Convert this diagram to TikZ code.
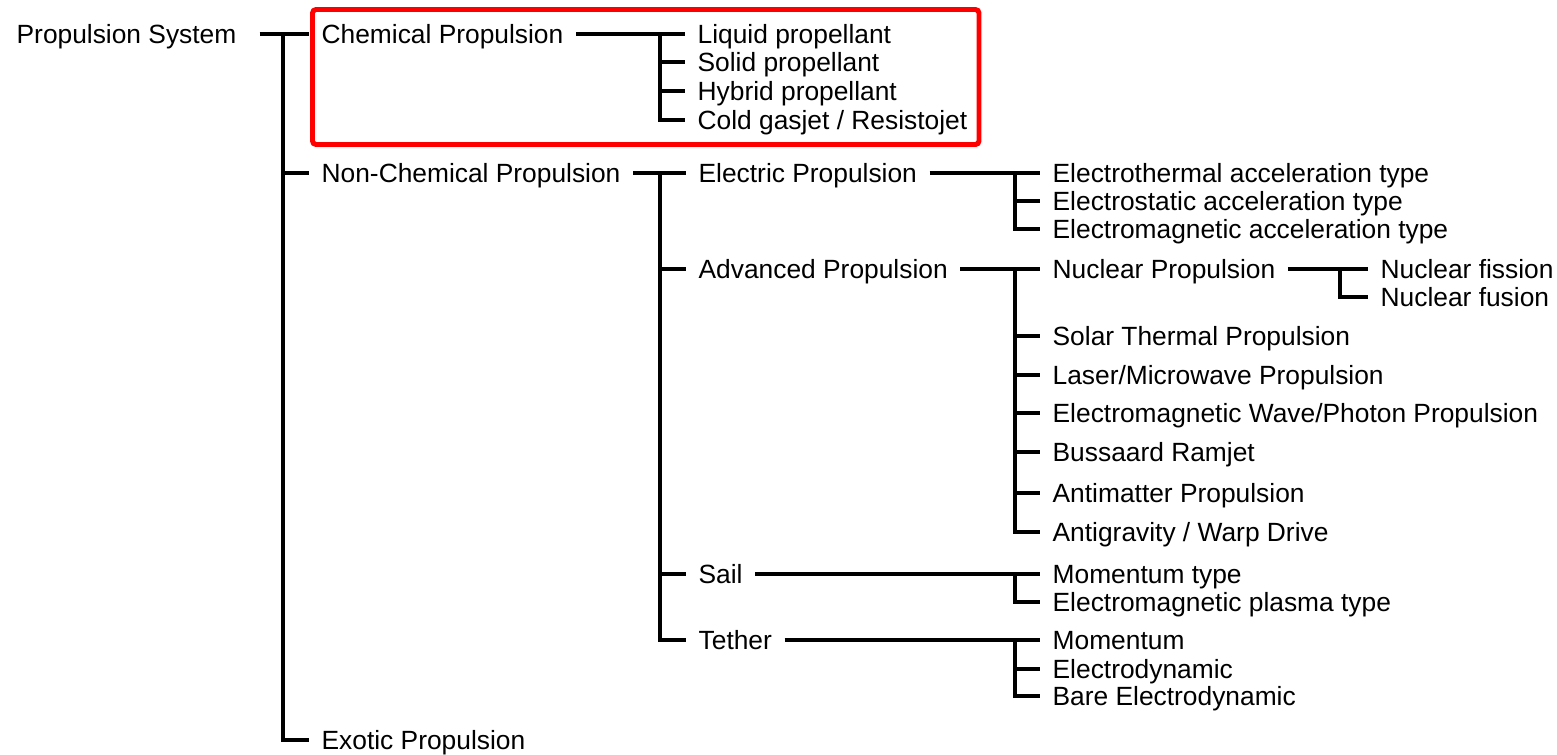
\documentclass[tikz,border=0pt]{standalone}
\usepackage{fontspec}
\setmainfont{Liberation Sans}
\definecolor{boxred}{RGB}{255, 0, 0}
\usetikzlibrary{positioning, calc}

\begin{document}
\begin{tikzpicture}[x=0.02cm, y=-0.02cm,
  item/.style={anchor=west, inner xsep=7pt, inner ysep=0pt, text height=10.7pt, text depth=0pt, font=\fontsize{15}{18}\selectfont},
  branch/.style={line width=1.9pt}]
  \useasboundingbox (0,0) rectangle (1557,754);

  \node[item] (ps) at (4,34) {Propulsion System};

  \node[item] (chem) at (309,34) {Chemical Propulsion};
  \node[item] (nonchem) at (309,173) {Non-Chemical Propulsion};
  \node[item] (exotic) at (309,740) {Exotic Propulsion};

  \node[item] (liquid) at (685,34) {Liquid propellant};
  \node[item] (solid) at (685,62) {Solid propellant};
  \node[item] (hybrid) at (685,91) {Hybrid propellant};
  \node[item] (cold) at (685,120) {Cold gasjet / Resistojet};

  \node[item] (elec) at (686,173) {Electric Propulsion};
  \node[item] (adv) at (686,269) {Advanced Propulsion};
  \node[item] (sail) at (686,574) {Sail};
  \node[item] (tether) at (686,640) {Tether};

  \node[item] (ethermal) at (1040,173) {Electrothermal acceleration type};
  \node[item] (estatic) at (1040,201) {Electrostatic acceleration type};
  \node[item] (emag) at (1040,229) {Electromagnetic acceleration type};

  \node[item] (nuc) at (1040,269) {Nuclear Propulsion};
  \node[item] (solar) at (1040,336) {Solar Thermal Propulsion};
  \node[item] (laser) at (1040,375) {Laser/Microwave Propulsion};
  \node[item] (emwave) at (1040,413) {Electromagnetic Wave/Photon Propulsion};
  \node[item] (bussard) at (1040,452) {Bussaard Ramjet};
  \node[item] (antimatter) at (1040,493) {Antimatter Propulsion};
  \node[item] (antigrav) at (1040,532) {Antigravity / Warp Drive};

  \node[item] (fission) at (1368,269) {Nuclear fission};
  \node[item] (fusion) at (1368,297) {Nuclear fusion};

  \node[item] (mtype) at (1040,574) {Momentum type};
  \node[item] (plasma) at (1040,602) {Electromagnetic plasma type};

  \node[item] (momentum) at (1040,640) {Momentum};
  \node[item] (edyn) at (1040,669) {Electrodynamic};
  \node[item] (bare) at (1040,696) {Bare Electrodynamic};

  \coordinate (psj) at (283,34);
  \coordinate (chemj) at (660,34);
  \coordinate (nonchemj) at (660,173);
  \coordinate (elecj) at (1015,173);
  \coordinate (advj) at (1015,269);
  \coordinate (nucj) at (1340,269);
  \coordinate (sailj) at (1015,574);
  \coordinate (tetherj) at (1015,640);

  \draw[branch, shorten <=6pt] (ps.east) -- (psj);
  \foreach \c in {chem, nonchem, exotic}
    \draw[branch] (psj) |- (\c.west);

  \draw[branch] (chem.east) -- (chemj);
  \foreach \c in {liquid, solid, hybrid, cold}
    \draw[branch] (chemj) |- (\c.west);

  \draw[branch] (nonchem.east) -- (nonchemj);
  \foreach \c in {elec, adv, sail, tether}
    \draw[branch] (nonchemj) |- (\c.west);

  \draw[branch] (elec.east) -- (elecj);
  \foreach \c in {ethermal, estatic, emag}
    \draw[branch] (elecj) |- (\c.west);

  \draw[branch] (adv.east) -- (advj);
  \foreach \c in {nuc, solar, laser, emwave, bussard, antimatter, antigrav}
    \draw[branch] (advj) |- (\c.west);

  \draw[branch] (nuc.east) -- (nucj);
  \foreach \c in {fission, fusion}
    \draw[branch] (nucj) |- (\c.west);

  \draw[branch] (sail.east) -- (sailj);
  \foreach \c in {mtype, plasma}
    \draw[branch] (sailj) |- (\c.west);

  \draw[branch] (tether.east) -- (tetherj);
  \foreach \c in {momentum, edyn, bare}
    \draw[branch] (tetherj) |- (\c.west);

  \draw[boxred, line width=2.8pt, rounded corners=2pt] (312.5,9.5) rectangle (979,144.5);
\end{tikzpicture}
\end{document}
